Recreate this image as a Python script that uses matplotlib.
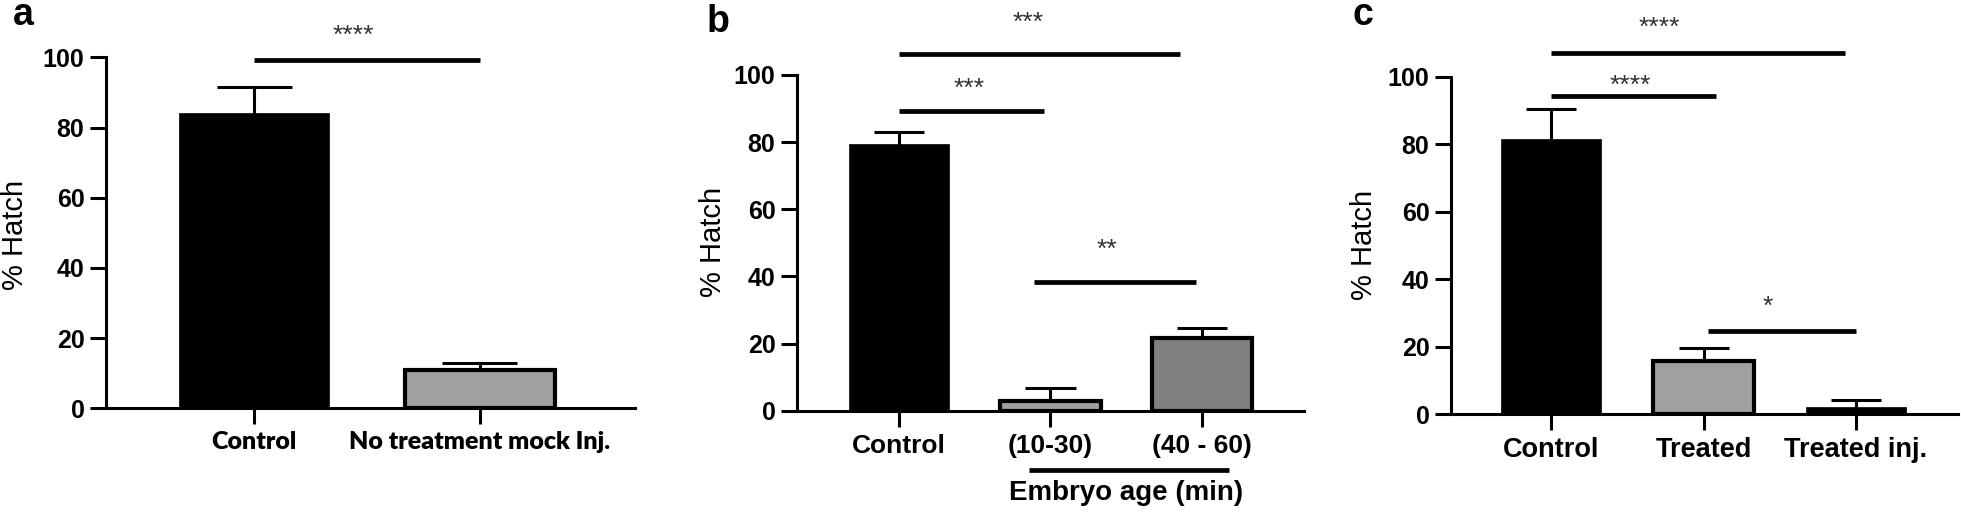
"""Hatch rate bar panels (a: mock injection, b: embryo age, c: treatment)."""
import numpy as np
import matplotlib
matplotlib.use("Agg")
import matplotlib.pyplot as plt

# ---- data ----
a_labels = ["Control", "No treatment mock Inj."]
a_mean = [84.2, 11.0]
a_err = [7.3, 1.9]
a_colors = ["#000000", "#a0a0a0"]

b_labels = ["Control", "(10-30)", "(40 - 60)"]
b_mean = [79.4, 2.9, 21.6]
b_err = [3.7, 3.8, 3.0]
b_colors = ["#000000", "#a0a0a0", "#7f7f7f"]

c_labels = ["Control", "Treated", "Treated inj."]
c_mean = [81.5, 15.9, 2.1]
c_err = [8.9, 3.6, 2.2]
c_colors = ["#000000", "#a0a0a0", "#000000"]

# significance brackets: (x0, x1, y, label, label_x, label_y)
a_sig = [(0.0, 1.0, 99.2, "****", 0.44, 108.6)]
b_sig = [(0.0, 1.855, 106.4, "***", 0.85, 118.0),
         (0.0, 0.957, 89.3, "***", 0.46, 98.2),
         (0.89, 1.96, 38.4, "**", 1.37, 50.3)]
c_sig = [(0.0, 1.93, 107.0, "****", 0.71, 117.0),
         (0.0, 1.08, 94.4, "****", 0.52, 99.6),
         (1.03, 2.0, 24.8, "*", 1.42, 34.2)]

W, H = 1961, 512
plt.rcParams["font.family"] = ["Liberation Sans", "DejaVu Sans"]


def px_axes(fig, x0, x1, ytop, ybot):
    return fig.add_axes([x0 / W, 1 - ybot / H, (x1 - x0) / W, (ybot - ytop) / H])


def panel(ax, labels, mean, err, colors, sig, xlim, width, label_font,
          label_size, label_weight="bold"):
    x = np.arange(len(labels))
    mean = np.asarray(mean)
    top = mean + np.asarray(err)
    # upper-only error bars (stem hidden behind bar, cap = half bar width)
    ax.vlines(x, mean - 1, top, color="black", lw=2.2, zorder=2)
    ax.hlines(top, x - width / 4, x + width / 4, color="black", lw=2.2, zorder=2)
    edge_w = [0.5 if c == "#000000" else 3.0 for c in colors]
    ax.bar(x, mean, width=width, color=colors, edgecolor="black",
           linewidth=edge_w, zorder=3)
    ax.set_xlim(*xlim)
    ax.set_ylim(0, 100)
    ax.set_yticks([0, 20, 40, 60, 80, 100])
    ax.set_xticks(x)
    ax.set_xticklabels(labels, family=label_font, fontweight=label_weight,
                       fontsize=label_size)
    for s in ("top", "right"):
        ax.spines[s].set_visible(False)
    for s in ("left", "bottom"):
        ax.spines[s].set_linewidth(2.2)
    ax.tick_params(axis="both", width=2.2, length=11.5, direction="out")
    ax.tick_params(axis="y", labelsize=18, pad=4)
    ax.tick_params(axis="x", pad=5)
    for lab in ax.get_yticklabels():
        lab.set_fontweight("bold")
    for x0, x1, y, txt, tx, ty in sig:
        ax.plot([x0, x1], [y, y], color="black", lw=3.4, clip_on=False,
                solid_capstyle="butt")
        ax.annotate(txt, xy=(tx, ty), xytext=(0, -11.0),
                    textcoords="offset points", ha="center", va="baseline",
                    fontsize=19, color="#333333", annotation_clip=False)


fig = plt.figure(figsize=(W / 100, H / 100), dpi=100)

ax_a = px_axes(fig, 106, 635, 57.3, 408.3)
panel(ax_a, a_labels, a_mean, a_err, a_colors, a_sig, (-0.655, 1.686), 0.664,
      "Lato", 18, label_weight="heavy")

ax_b = px_axes(fig, 797, 1304, 75.0, 410.7)
panel(ax_b, b_labels, b_mean, b_err, b_colors, b_sig, (-0.673, 2.673), 0.66,
      "Liberation Sans", 19)
ax_b.plot([0.86, 2.18], [-17.7, -17.7], color="black", lw=3.4, clip_on=False,
          solid_capstyle="butt")
ax_b.text(1.50, -24.5, "Embryo age (min)", ha="center", va="center",
          fontsize=20, fontweight="bold", clip_on=False)

ax_c = px_axes(fig, 1451, 1958, 76.7, 414.3)
panel(ax_c, c_labels, c_mean, c_err, c_colors, c_sig, (-0.656, 2.669), 0.656,
      "Liberation Sans", 19.5)

# y labels and panel letters
for xc, yc in [(15, 235), (713, 242), (1364, 245)]:
    fig.text(xc / W, 1 - yc / H, "% Hatch", rotation=90, ha="center",
             va="center", fontsize=21)
for xl, yb, letter in [(13, 25, "a"), (707, 32, "b"), (1353, 25, "c")]:
    fig.text(xl / W, 1 - yb / H, letter, ha="left", va="baseline",
             fontsize=27, fontweight="bold")

fig.savefig("out.png", dpi=100)
